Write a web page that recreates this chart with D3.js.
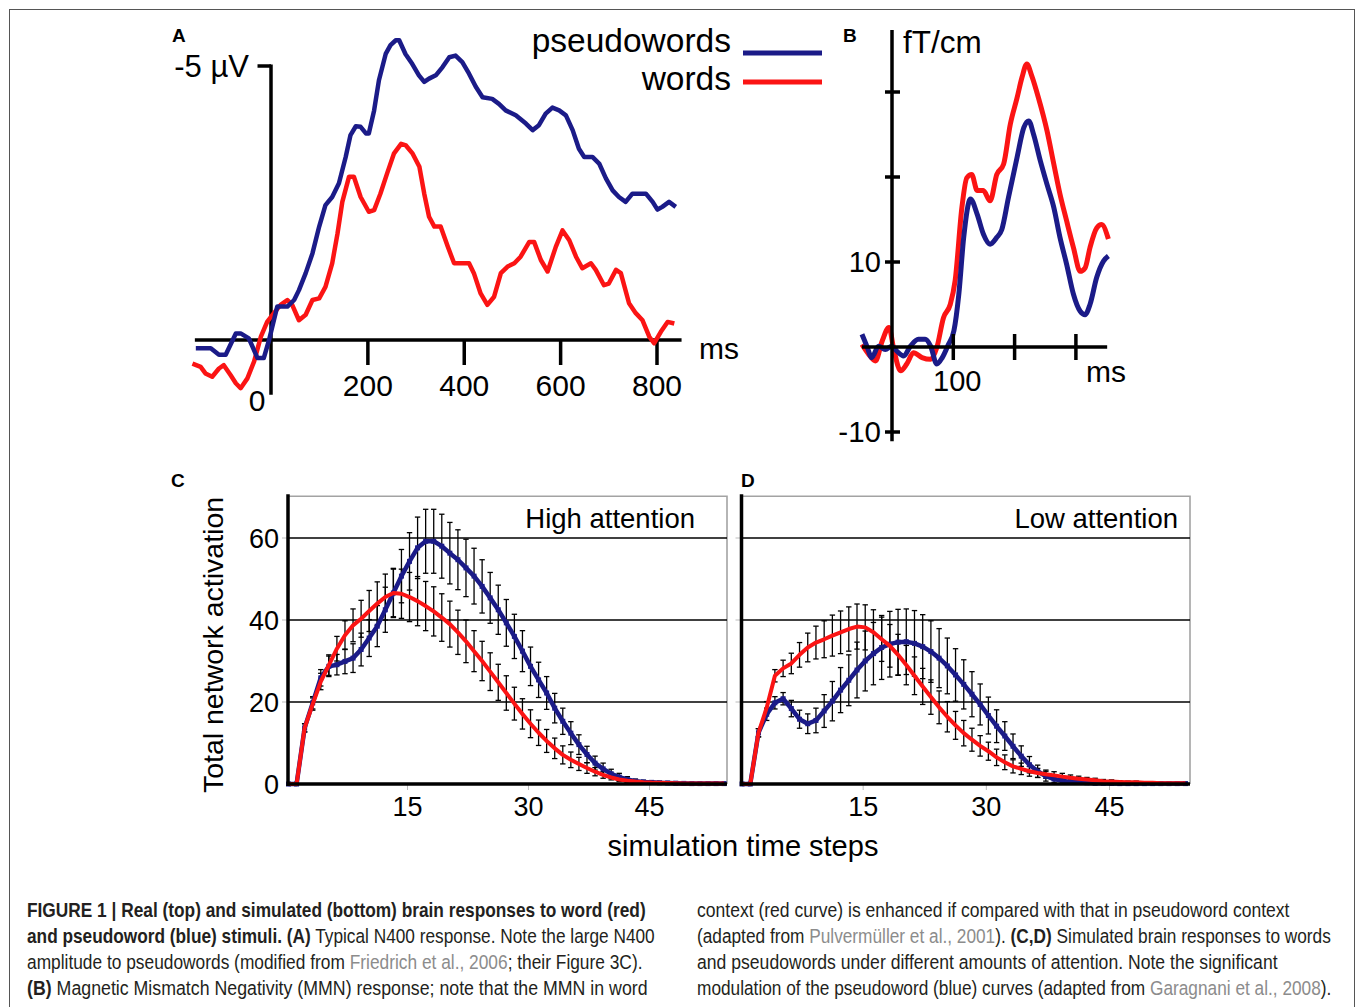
<!DOCTYPE html>
<html>
<head>
<meta charset="utf-8">
<script src="https://cdn.jsdelivr.net/npm/d3@7"></script>
<style>
body { margin:0; background:#fff; }
</style>
</head>
<body>
<svg id="fig" width="1358" height="1007"></svg>
<script>
// ---- panel A : N400 (ms, microvolt, negative up)
var pseudoA = [[-156,0.15],[-125,0.15],[-108,0.27],[-94,0.27],[-73,-0.12],[-63,-0.12],[-46,-0.03],[-28,0.33],[-15,0.33],[-4,0],[6,-0.36],[13,-0.61],[34,-0.61],[48,-0.73],[58,-0.91],[72,-1.22],[86,-1.58],[100,-2.07],[113,-2.46],[127,-2.61],[141,-2.86],[155,-3.34],[165,-3.74],[176,-3.9],[186,-3.89],[197,-3.77],[203,-3.77],[214,-4.19],[224,-4.74],[238,-5.22],[248,-5.38],[259,-5.47],[266,-5.47],[279,-5.22],[293,-5.04],[307,-4.83],[318,-4.71],[328,-4.77],[342,-4.83],[356,-4.98],[370,-5.16],[383,-5.19],[397,-5.07],[411,-4.86],[425,-4.62],[439,-4.43],[459,-4.4],[473,-4.31],[487,-4.19],[508,-4.1],[529,-3.95],[543,-3.83],[556,-3.92],[570,-4.13],[584,-4.24],[598,-4.19],[612,-4.1],[626,-3.83],[639,-3.49],[650,-3.34],[667,-3.34],[681,-3.22],[695,-2.95],[709,-2.73],[722,-2.61],[736,-2.52],[750,-2.67],[778,-2.67],[792,-2.52],[802,-2.38],[812,-2.43],[826,-2.52],[840,-2.43]];
var wordsA = [[-163,0.43],[-146,0.49],[-136,0.61],[-122,0.67],[-108,0.52],[-98,0.46],[-84,0.64],[-73,0.79],[-63,0.88],[-49,0.7],[-35,0.39],[-21,-0.06],[-8,-0.33],[6,-0.49],[20,-0.64],[34,-0.73],[44,-0.64],[58,-0.36],[72,-0.46],[86,-0.73],[100,-0.76],[113,-0.97],[127,-1.4],[138,-1.94],[148,-2.52],[162,-2.98],[172,-2.98],[186,-2.61],[203,-2.34],[214,-2.37],[227,-2.67],[241,-3.04],[255,-3.4],[270,-3.58],[280,-3.55],[294,-3.4],[308,-3.16],[318,-2.67],[328,-2.25],[339,-2.07],[352,-2.07],[367,-1.7],[380,-1.4],[397,-1.4],[411,-1.4],[421,-1.22],[435,-0.85],[449,-0.64],[463,-0.79],[477,-1.22],[491,-1.34],[505,-1.4],[518,-1.52],[536,-1.79],[546,-1.79],[560,-1.46],[574,-1.25],[591,-1.7],[605,-2.0],[619,-1.82],[633,-1.52],[646,-1.31],[664,-1.4],[674,-1.28],[691,-1.0],[701,-1.03],[716,-1.28],[726,-1.22],[743,-0.67],[757,-0.49],[771,-0.36],[785,-0.06],[795,0.06],[809,-0.15],[823,-0.33],[837,-0.3]];
var ticksA = [200, 400, 600, 800];

// ---- panel B : MMN (ms, fT/cm)
var pseudoB = [[-49,1.5],[-41,0.1],[-33,-1.25],[-22,0.1],[-11,-0.3],[0,0.1],[8,-0.5],[19,-1.06],[30,0.1],[43,0.9],[54,0.9],[63,0.1],[73,-2.0],[82,-1.25],[92,0.3],[101,1.9],[109,6.2],[117,12.9],[128,17.4],[139,15.6],[149,13.3],[160,12.1],[171,12.9],[179,13.8],[190,17.6],[204,22.3],[215,25.8],[223,26.6],[231,25.0],[242,21.9],[253,19.1],[264,16.4],[274,12.9],[285,9.7],[296,6.2],[307,4.2],[315,3.8],[323,5.0],[334,8.2],[345,10.1],[353,10.7]];
var wordsB = [[-49,0.3],[-38,-0.86],[-27,-1.65],[-16,0.7],[-5,2.3],[3,-0.3],[14,-2.8],[24,-2.0],[35,-0.67],[49,-1.25],[63,-1.45],[73,-0.1],[84,3.45],[95,5.0],[103,7.8],[114,16.4],[122,19.9],[130,20.3],[139,18.4],[149,18.4],[160,17.2],[171,20.3],[182,21.5],[193,26.2],[204,29.3],[212,31.7],[220,33.3],[228,31.9],[239,29.3],[253,25.4],[264,21.5],[274,18.0],[285,14.8],[296,11.7],[307,8.9],[315,9.3],[323,11.7],[334,14.0],[342,14.4],[353,12.7]];
var ticksBx = [100, 200, 300];
var ticksBy = [-10, 10, 20, 30];

// ---- panels C, D : simulated activation per time step (0..54)
var pseudoC = [0,0,13.7,19.8,25.9,28.7,29.1,29.9,30.7,32.8,35.6,38.5,42.5,46.6,50.7,54.3,57.6,59.2,59.2,58,56.3,54.7,52.7,50.7,48.2,45.4,42.5,39.3,36,32.4,28.7,25.4,22.2,18.5,15.3,12.4,9.6,7.2,5.1,3.7,2.5,1.7,1.1,0.7,0.5,0.4,0.3,0.25,0.2,0.15,0.1,0.1,0.1,0.1,0.1];
var pseudoCerr = [0,0,1,1.5,2,2.5,2.5,3,3.5,4,4.5,5,5.5,6,6.5,7,7.5,7.8,7.8,7.8,7.5,7.3,7,6.8,6.5,6.2,6,5.7,5.4,5,4.7,4.3,4,3.6,3.2,2.8,2.4,2,1.7,1.4,1.1,0.9,0.7,0.5,0.4,0.3,0.3,0.2,0.2,0.2,0.1,0.1,0.1,0.1,0.1];
var wordsC = [0,0,13.7,19.5,25,29,33,36.3,38.7,40.3,42.2,44,45.6,46.6,46.4,45.6,44.6,43.4,42.1,40.6,39,37,34.8,32.4,30,27.4,24.8,22.2,19.6,17.1,14.7,12.5,10.5,8.7,7.1,5.9,4.9,3.9,3,2.2,1.6,1.1,0.8,0.6,0.45,0.35,0.3,0.25,0.2,0.15,0.1,0.1,0.1,0.1,0.1];
var wordsCerr = [0,0,1,1.5,2,2.5,3,3.5,4,4.5,5,5.3,5.6,5.8,6,6,6,6,6,5.8,5.6,5.4,5.2,5,4.8,4.6,4.4,4.2,4,3.7,3.4,3.1,2.8,2.5,2.2,1.9,1.6,1.3,1,0.8,0.6,0.5,0.4,0.3,0.3,0.2,0.2,0.2,0.1,0.1,0.1,0.1,0.1,0.1,0.1];
var pseudoD = [0,0,12.5,17,19.8,20.8,18.4,15.8,14.7,15.5,17.8,20.2,22.9,25.3,27.8,30,31.8,33.3,34.1,34.6,34.7,34.3,33.5,32.3,30.7,28.8,26.6,24.3,21.9,19.4,16.7,14.1,11.7,9.2,6.8,4.7,3.1,1.9,1.2,0.8,0.5,0.4,0.3,0.2,0.2,0.15,0.1,0.1,0.1,0.1,0.1,0.1,0.1,0.1,0.1];
var pseudoDerr = [0,0,1,1.5,1.5,1.5,2,2.2,2.4,3,4,4.8,5.5,6.2,6.8,7.3,7.6,7.8,8,8,8,8,7.8,7.5,7.2,6.8,6.4,6,5.5,5,4.5,4,3.5,3,2.5,2,1.5,1.2,0.9,0.7,0.5,0.4,0.3,0.2,0.2,0.1,0.1,0.1,0.1,0.1,0.1,0.1,0.1,0.1,0.1];
var wordsD = [0,0,12.5,18.6,26.4,28.2,29.4,31.5,33.3,34.5,35.3,36.2,37,37.8,38.4,38.2,37,35.3,33.7,31.5,29,26.4,23.8,21.2,18.7,16.4,14.3,12.4,10.8,9.3,8,6.5,5.3,4.3,3.7,3.1,2.7,2.4,2.1,1.8,1.5,1.3,1.1,0.9,0.7,0.6,0.5,0.4,0.4,0.3,0.3,0.2,0.2,0.2,0.2];
var wordsDerr = [0,0,1,1.5,1.5,2,2.5,3,3.5,4,4.5,5,5.2,5.4,5.5,5.5,5.5,5.4,5.2,5,4.8,4.6,4.4,4.2,4,3.7,3.4,3.1,2.8,2.5,2.2,2,1.8,1.6,1.4,1.2,1.1,1,0.9,0.8,0.7,0.6,0.5,0.5,0.4,0.4,0.3,0.3,0.3,0.2,0.2,0.2,0.2,0.2,0.2];
var gridSim = [20, 40, 60];
var ticksSimX = [15, 30, 45];

// ---- caption, [text, style] segments: b = bold, g = grey reference
var captionLeft = [
	[["FIGURE 1 | Real (top) and simulated (bottom) brain responses to word (red)","b"]],
	[["and pseudoword (blue) stimuli. (A)","b"],[" Typical N400 response. Note the large N400",""]],
	[["amplitude to pseudowords (modified from ",""],["Friedrich et al., 2006","g"],["; their Figure 3C).",""]],
	[["(B)","b"],[" Magnetic Mismatch Negativity (MMN) response; note that the MMN in word",""]]
];
var captionRight = [
	[["context (red curve) is enhanced if compared with that in pseudoword context",""]],
	[["(adapted from ",""],["Pulvermüller et al., 2001","g"],["). ",""],["(C,D)","b"],[" Simulated brain responses to words",""]],
	[["and pseudowords under different amounts of attention. Note the significant",""]],
	[["modulation of the pseudoword (blue) curves (adapted from ",""],["Garagnani et al., 2008","g"],[").",""]]
];

var FONT = "'Liberation Sans', Arial, Helvetica, sans-serif";
var BLUE = "#1b1b88", RED = "#fb1414";

var svg = d3.select("#fig");
svg.selectAll("*").remove();
svg.append("rect").attr("width",1358).attr("height",1007).attr("fill","#fff");
// outer figure frame
svg.append("rect").attr("x",9.5).attr("y",9.5).attr("width",1345).attr("height",1200)
	.attr("fill","none").attr("stroke","#555").attr("stroke-width",1);

function label(g, txt, x, y, size, anchor, weight){
	return g.append("text").attr("x",x).attr("y",y).attr("font-family",FONT)
		.attr("font-size",size).attr("text-anchor",anchor||"start")
		.attr("font-weight",weight||"normal").attr("fill","#000").text(txt);
}

//=========== A
var xA = d3.scaleLinear().domain([0,800]).range([271,656.5]);
var yA = d3.scaleLinear().domain([0,-5]).range([340,66]);
var gA = svg.append("g");

gA.append("line").attr("x1",xA(-158)).attr("x2",xA(852)).attr("y1",yA(0)).attr("y2",yA(0))
	.attr("stroke","#000").attr("stroke-width",3.5);
gA.append("line").attr("x1",xA(0)).attr("x2",xA(0)).attr("y1",yA(-5)-1.5).attr("y2",yA(1))
	.attr("stroke","#000").attr("stroke-width",3.5);
gA.append("line").attr("x1",xA(-28)).attr("x2",xA(0)).attr("y1",yA(-5)).attr("y2",yA(-5))
	.attr("stroke","#000").attr("stroke-width",3.5);

gA.append("g").attr("transform","translate(0,"+yA(0)+")")
	.call(d3.axisBottom(xA).tickValues(ticksA).tickSize(25).tickPadding(10))
	.call(function(g){
		g.attr("font-family",FONT).attr("font-size",30);
		g.select(".domain").remove();
		g.selectAll("line").attr("stroke","#000").attr("stroke-width",3.5);
		g.selectAll("text").attr("fill","#000");
	});

var lineA = d3.line().x(function(d){return xA(d[0]);}).y(function(d){return yA(d[1]);});
gA.append("path").datum(wordsA).attr("d",lineA).attr("fill","none").attr("stroke",RED)
	.attr("stroke-width",4.5).attr("stroke-linejoin","round");
gA.append("path").datum(pseudoA).attr("d",lineA).attr("fill","none").attr("stroke",BLUE)
	.attr("stroke-width",4.5).attr("stroke-linejoin","round");

label(gA,"-5 µV",249,77,31,"end");
label(gA,"0",257,411,30,"middle");
label(gA,"ms",699,359,30,"start");
label(gA,"A",172,42,19,"start","bold");

// legend
var legend = [["pseudowords",BLUE,53,52],["words",RED,82,89.5]];
legend.forEach(function(l){
	label(gA,l[0],731,l[3],33.5,"end");
	gA.append("line").attr("x1",743).attr("x2",822).attr("y1",l[2]).attr("y2",l[2])
		.attr("stroke",l[1]).attr("stroke-width",5);
});

//=========== B
var xB = d3.scaleLinear().domain([0,100]).range([892,953.3]);
var yB = d3.scaleLinear().domain([0,10]).range([347,262]);
var gB = svg.append("g");
var lineB = d3.line().curve(d3.curveMonotoneX).x(function(d){return xB(d[0]);}).y(function(d){return yB(d[1]);});
gB.append("path").datum(wordsB).attr("d",lineB).attr("fill","none").attr("stroke",RED)
	.attr("stroke-width",5).attr("stroke-linejoin","round");
gB.append("path").datum(pseudoB).attr("d",lineB).attr("fill","none").attr("stroke",BLUE)
	.attr("stroke-width",5).attr("stroke-linejoin","round");

gB.append("line").attr("x1",xB(0)).attr("x2",xB(0)).attr("y1",30).attr("y2",yB(-11.1))
	.attr("stroke","#000").attr("stroke-width",3.5);
gB.append("line").attr("x1",xB(-49)).attr("x2",xB(351)).attr("y1",yB(0)).attr("y2",yB(0))
	.attr("stroke","#000").attr("stroke-width",3.5);
gB.selectAll(".ty").data(ticksBy).enter().append("line")
	.attr("x1",xB(0)-7).attr("x2",xB(0)+8)
	.attr("y1",function(d){return yB(d);}).attr("y2",function(d){return yB(d);})
	.attr("stroke","#000").attr("stroke-width",3.5);
gB.selectAll(".tx").data(ticksBx).enter().append("line")
	.attr("x1",function(d){return xB(d);}).attr("x2",function(d){return xB(d);})
	.attr("y1",yB(0)-13).attr("y2",yB(0)+13)
	.attr("stroke","#000").attr("stroke-width",3.5);
label(gB,"10",881,272,29,"end");
label(gB,"-10",881,442,29.5,"end");
label(gB,"100",xB(100)+4,391,29,"middle");
label(gB,"ms",1086,382,30,"start");
label(gB,"fT/cm",903,53,31.5,"start");
label(gB,"B",843,42,19,"start","bold");

//=========== C and D
var ySim = d3.scaleLinear().domain([0,60]).range([784,538]);

function simPanel(o){
	var x = d3.scaleLinear().domain([0,45]).range(o.range);
	var g = svg.append("g");
	var left = x(0)+1.5, right = o.right, top = ySim(70.2);

	// frame
	g.append("path").attr("d","M"+left+","+top+"H"+right+"V"+ySim(0))
		.attr("fill","none").attr("stroke","#a3a3a3").attr("stroke-width",1.6);
	g.selectAll(".grid").data(gridSim).enter().append("line")
		.attr("x1",left).attr("x2",right)
		.attr("y1",function(d){return ySim(d);}).attr("y2",function(d){return ySim(d);})
		.attr("stroke","#000").attr("stroke-width",1.7);
	g.selectAll(".gt").data(gridSim).enter().append("line")
		.attr("x1",left-6).attr("x2",left)
		.attr("y1",function(d){return ySim(d);}).attr("y2",function(d){return ySim(d);})
		.attr("stroke","#bbb").attr("stroke-width",1);
	g.selectAll(".xt").data(ticksSimX).enter().append("line")
		.attr("x1",function(d){return x(d);}).attr("x2",function(d){return x(d);})
		.attr("y1",ySim(0)).attr("y2",ySim(0)+6)
		.attr("stroke","#bbb").attr("stroke-width",1);

	// error bars
	[[o.blue,o.blueErr],[o.red,o.redErr]].forEach(function(s){
		var pts = s[0].map(function(v,i){return {i:i, v:v, e:s[1][i]};})
			.filter(function(d){return d.e > 0.15;});
		var eb = g.append("g").attr("stroke","#000").attr("stroke-width",1.3);
		eb.selectAll("line.v").data(pts).enter().append("line")
			.attr("x1",function(d){return x(d.i+0.25);}).attr("x2",function(d){return x(d.i+0.25);})
			.attr("y1",function(d){return ySim(d.v+d.e);}).attr("y2",function(d){return ySim(d.v-d.e);});
		[1,-1].forEach(function(sg){
			eb.selectAll("line.c"+sg).data(pts).enter().append("line")
				.attr("x1",function(d){return x(d.i+0.25)-2.7;}).attr("x2",function(d){return x(d.i+0.25)+2.7;})
				.attr("y1",function(d){return ySim(d.v+sg*d.e);}).attr("y2",function(d){return ySim(d.v+sg*d.e);});
		});
	});

	var line = d3.line().x(function(d,i){return x(i+0.25);}).y(function(d){return ySim(d);});
	g.append("path").datum(o.blue).attr("d",line).attr("fill","none").attr("stroke",BLUE)
		.attr("stroke-width",4.5).attr("stroke-linejoin","round");
	g.selectAll(".mk").data(o.blue).enter().append("rect")
		.attr("x",function(d,i){return x(i+0.25)-2.5;}).attr("y",function(d){return ySim(d)-2.5;})
		.attr("width",5).attr("height",5).attr("fill",BLUE);
	g.append("path").datum(o.red).attr("d",line).attr("fill","none").attr("stroke",RED)
		.attr("stroke-width",4).attr("stroke-linejoin","round");

	// axes
	g.append("line").attr("x1",left).attr("x2",right).attr("y1",ySim(0)).attr("y2",ySim(0))
		.attr("stroke","#000").attr("stroke-width",3.5);
	g.append("line").attr("x1",left).attr("x2",left).attr("y1",top-2).attr("y2",ySim(0)+2)
		.attr("stroke","#000").attr("stroke-width",3.5);

	g.selectAll(".xl").data(ticksSimX).enter().append("text")
		.attr("x",function(d){return x(d);}).attr("y",816)
		.attr("font-family",FONT).attr("font-size",27).attr("text-anchor","middle")
		.text(function(d){return d;});
	if(o.yLabels){
		g.selectAll(".yl").data([0].concat(gridSim)).enter().append("text")
			.attr("x",left-9).attr("y",function(d){return ySim(d)+9.5;})
			.attr("font-family",FONT).attr("font-size",27).attr("text-anchor","end")
			.text(function(d){return d;});
	}
	label(g,o.title,o.titleX,528,27.5,"end");
	label(g,o.letter,o.letterX,487,19,"start","bold");
}

simPanel({range:[286.5,649.5], right:727, blue:pseudoC, blueErr:pseudoCerr, red:wordsC, redErr:wordsCerr,
	yLabels:true, title:"High attention", titleX:695, letter:"C", letterX:171});
simPanel({range:[740,1109.5], right:1190, blue:pseudoD, blueErr:pseudoDerr, red:wordsD, redErr:wordsDerr,
	yLabels:false, title:"Low attention", titleX:1178, letter:"D", letterX:741});

label(svg,"simulation time steps",743,856,29,"middle");
svg.append("text").attr("transform","translate(223,645) rotate(-90)")
	.attr("font-family",FONT).attr("font-size",28.5).attr("text-anchor","middle")
	.text("Total network activation");

//=========== caption: each line is laid out naturally, then squeezed
// horizontally to the column width (the journal uses a condensed face)
var capLayout = [
	{lines:captionLeft, x:27, widths:[619,628,616,621]},
	{lines:captionRight, x:697, widths:[593,634,581,635]}
];
capLayout.forEach(function(c){
	c.lines.forEach(function(segs,k){
		var t = svg.append("text").attr("x",0).attr("y",0)
			.attr("font-family",FONT).attr("font-size",19.5).attr("fill","#231f20");
		segs.forEach(function(s){
			t.append("tspan").text(s[0])
				.attr("font-weight",s[1]=="b" ? "bold" : "normal")
				.attr("fill",s[1]=="g" ? "#8c8c8c" : "#231f20");
		});
		var w = t.node().getComputedTextLength();
		t.attr("transform","translate("+c.x+","+(917+k*26)+") scale("+(c.widths[k]/w)+",1)");
	});
});
</script>
</body>
</html>
